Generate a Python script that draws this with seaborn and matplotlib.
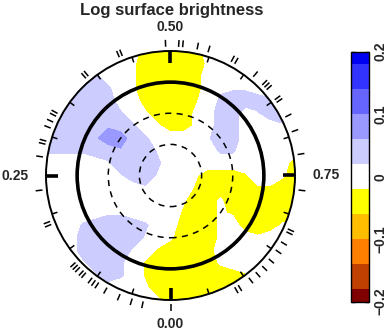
import numpy as np
import matplotlib
matplotlib.use("Agg")
import matplotlib.pyplot as plt
from matplotlib.patches import Circle
import seaborn as sns

# brightness map on a 0.1 grid
# columns: x from -1 (left) to 1 (right), rows: y from 1 (top) to -1 (bottom)
# . white   o/l weak edge of blue   b light blue   n/B medium blue
# v/u weak edge of yellow   y yellow
map_rows = [
    "bbb.....yyyyy........",
    "bbbb...vyyyyyv.......",
    "bbbbl..vyyyyy........",
    "bbbbbl.vyyyyy.ooo..ob",
    "bbbbbb..yyyyu.lbbblbb",
    "bbbbbbl.vyyyv.bb.obbb",
    "bbbbnnbl.vyyv.bb...o.",
    "bbbbnBBbl....obb.....",
    "llllbbnbbo....ll.....",
    ".....obbbl..........y",
    "......obbo..vyyyu..vy",
    "........o...uyyyyuuyy",
    "...........vyyvyyyyyy",
    ".....oo....uyyvuyyyyy",
    "...lbbbbl..yyyv.yyyv.",
    "...bbbbbo.vyyyv..v...",
    "...bbbbo.uyyyy.......",
    "...obbl.uyyyyyv......",
    "....obl.uyyyyyyyu....",
    "........vyyyyyyyyu...",
    ".........vyyyyyyyyu..",
]
code_values = {".": 0.0, "o": 0.015, "l": 0.025, "b": 0.04, "n": 0.055, "B": 0.08,
               "v": -0.015, "u": -0.025, "y": -0.04}

levels = [-0.2, -0.18, -0.14, -0.10, -0.06, -0.02, 0.02, 0.06, 0.10, 0.14, 0.18, 0.2]
level_colors = ["#800000", "#bf4000", "#ff8000", "#ffbf00", "#ffff00", "#ffffff",
                "#ccccff", "#9999ff", "#6666ff", "#3333ff", "#0000f2"]
cbar_ticks = [-0.2, -0.1, 0.0, 0.1, 0.2]
cbar_labels = ["\u22120.2", "\u22120.1", "0", "0.1", "0.2"]
cbar_minor = np.round(np.arange(-0.18, 0.19, 0.02), 2)

# observed rotation phases (ticks outside the disc)
obs_phases = [0.0, 0.034, 0.048, 0.064, 0.082, 0.094, 0.099, 0.104, 0.114, 0.118,
              0.124, 0.128, 0.132, 0.188, 0.192, 0.232, 0.273, 0.289, 0.293, 0.310,
              0.318, 0.326, 0.330, 0.386, 0.390, 0.435, 0.439, 0.494, 0.510, 0.515,
              0.533, 0.547, 0.578, 0.583, 0.611, 0.626, 0.630, 0.634, 0.650, 0.654,
              0.675, 0.695, 0.724, 0.768, 0.818, 0.822, 0.836, 0.848, 0.862, 0.874,
              0.885, 0.896, 0.912, 0.917]
phase_labels = ["0.00", "0.25", "0.50", "0.75"]
phase_label_pos = [0.0, 0.25, 0.5, 0.75]
grid_phases = np.round(np.arange(0, 1, 0.05), 2)

ring_radii = [1.0, 0.75, 0.5, 0.25]
ring_widths = [1.4, 2.6, 1.1, 1.1]
ring_styles = ["-", "-", (0, (4, 3.5)), (0, (4, 3.5))]

sns.set_theme(style="white")
plt.rcParams["font.family"] = ["Liberation Sans", "DejaVu Sans"]

fig = plt.figure(figsize=(3.86, 3.30), dpi=100)
cx, cy, rad = 170.5, 175.5, 124.5
ax = fig.add_axes([0, 0, 1, 1])
ax.set_xlim(-cx / rad, (386 - cx) / rad)
ax.set_ylim((cy - 330) / rad, cy / rad)
ax.axis("off")

xg = np.linspace(-1, 1, 21)
yg = np.linspace(1, -1, 21)
Z = np.array([[code_values[c] for c in row] for row in map_rows])
cs = ax.contourf(xg, yg[::-1], Z[::-1], levels=levels, colors=level_colors)
cs.set_clip_path(Circle((0, 0), 1.0, transform=ax.transData))

for r, lw, ls in zip(ring_radii, ring_widths, ring_styles):
    ax.add_patch(Circle((0, 0), r, fill=False, color="black", lw=lw, ls=ls, zorder=3))


def phase_xy(phase, r):
    th = np.deg2rad(-90 - 360 * np.asarray(phase))
    return r * np.cos(th), r * np.sin(th)


for p in grid_phases:
    major = p in phase_label_pos
    r0 = 0.9 if major else 0.955
    x0, y0 = phase_xy(p, r0)
    x1, y1 = phase_xy(p, 1.0)
    ax.plot([x0, x1], [y0, y1], color="black", lw=2.6 if major else 1.1,
            solid_capstyle="butt", zorder=3)

for p in obs_phases:
    x0, y0 = phase_xy(p, 1.035)
    x1, y1 = phase_xy(p, 1.09)
    ax.plot([x0, x1], [y0, y1], color="black", lw=1.1, solid_capstyle="butt", zorder=3)

for p, lab in zip(phase_label_pos, phase_labels):
    lx, ly = phase_xy(p, 1.19)
    if p in (0.25, 0.75):
        lx = lx * 1.05
    ax.text(lx, ly, lab, ha="center", va="center", fontsize=10, fontweight="bold")

fig.text(172 / 386, 1 - 11 / 330, "Log surface brightness", ha="center", va="center",
         fontsize=12, fontweight="bold")

cax = fig.add_axes([351 / 386, (330 - 301.7) / 330, 18.3 / 386, 250 / 330])
cb = fig.colorbar(cs, cax=cax, spacing="proportional", ticks=cbar_ticks)
cb.set_ticks(cbar_minor, minor=True)
cb.set_ticklabels(cbar_labels)
cb.outline.set_linewidth(1.0)
cb.outline.set_edgecolor("black")
cax.tick_params(which="both", direction="in", left=True, right=True, length=3,
                width=1.0, color="black", labelleft=False, labelright=True, pad=3)
for t in cax.get_yticklabels():
    t.set_rotation(90)
    t.set_va("center")
    t.set_fontsize(10)
    t.set_fontweight("bold")

fig.savefig("out.png", dpi=100)
